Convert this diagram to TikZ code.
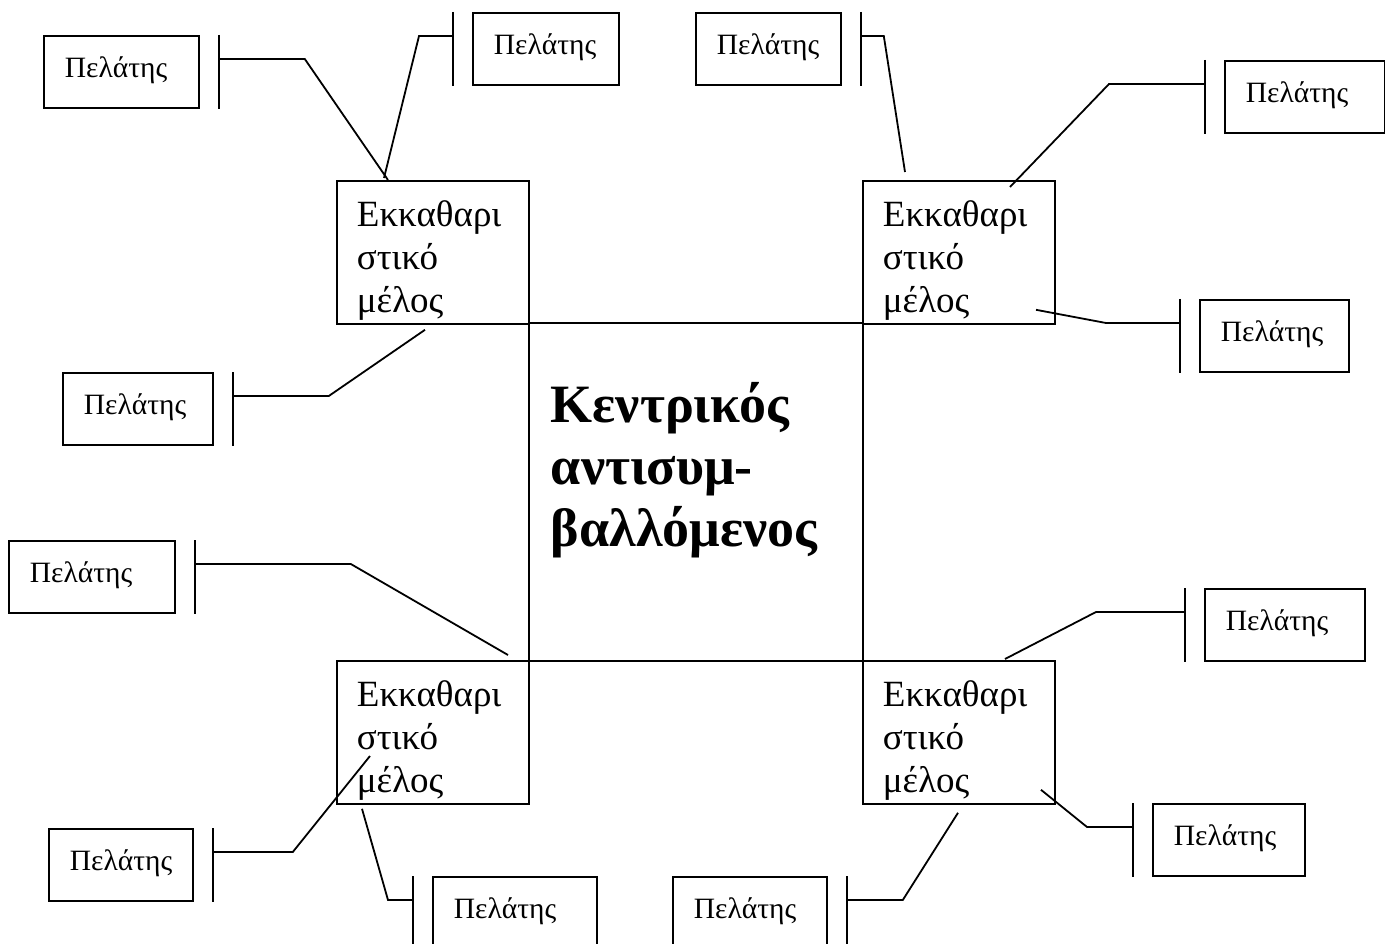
\documentclass[tikz,border=0pt]{standalone}
\usepackage{fontspec}
\setmainfont{Liberation Serif}
\usetikzlibrary{positioning, calc}

\tikzset{
  link/.style={line width=1.8pt},
  hub/.style={draw, line width=1.8pt, anchor=north west, inner xsep=22pt, inner ysep=0pt,
    text width=290pt, text height=100pt, text depth=238pt, align=left,
    font=\fontsize{54}{62}\selectfont\bfseries},
  member/.style={draw, line width=1.8pt, anchor=north west, inner xsep=20pt, inner ysep=0pt,
    text width=152pt, text height=46pt, text depth=97pt, align=left,
    font=\fontsize{37}{43}\selectfont},
  client/.style={draw, line width=1.8pt, anchor=north west, inner xsep=21pt, inner ysep=0pt,
    text height=42pt, text depth=30pt, align=left,
    font=\fontsize{29.5}{33}\selectfont}
}

\begin{document}
\begin{tikzpicture}[x=1pt, y=-1pt]
\clip (0,0) rectangle (1385,944);
\fill[white] (0,0) rectangle (1385,944);

% central counterparty and its clearing members
\node[hub] (hub) at (528,322) {Κεντρικός\\αντισυμ-\\βαλλόμενος};
\node[member] (mTL) at (336,180) {Εκκαθαρι\\στικό\\μέλος};
\node[member] (mTR) at (862,180) {Εκκαθαρι\\στικό\\μέλος};
\node[member] (mBL) at (336,660) {Εκκαθαρι\\στικό\\μέλος};
\node[member] (mBR) at (862,660) {Εκκαθαρι\\στικό\\μέλος};

% clients
\node[client, text width=113pt] (c1) at (43,35) {Πελάτης};
\node[client, text width=104pt] (c2) at (472,12) {Πελάτης};
\node[client, text width=108pt] (c3) at (62,372) {Πελάτης};
\node[client, text width=103pt] (c4) at (695,12) {Πελάτης};
\node[client, text width=118pt] (c5) at (1224,60) {Πελάτης};
\node[client, text width=107pt] (c6) at (1199,299) {Πελάτης};
\node[client, text width=124pt] (c7) at (8,540) {Πελάτης};
\node[client, text width=102pt] (c8) at (48,828) {Πελάτης};
\node[client, text width=122pt] (c9) at (432,876) {Πελάτης};
\node[client, text width=118pt] (c10) at (1204,588) {Πελάτης};
\node[client, text width=110pt] (c11) at (1152,803) {Πελάτης};
\node[client, text width=112pt] (c12) at (672,876) {Πελάτης};

% bars in front of the clients
\draw[link] ($(c1.north east)+(19,0)$) -- ($(c1.south east)+(19,0)$);
\draw[link] ($(c2.north west)+(-19,0)$) -- ($(c2.south west)+(-19,0)$);
\draw[link] ($(c3.north east)+(19,0)$) -- ($(c3.south east)+(19,0)$);
\draw[link] ($(c4.north east)+(19,0)$) -- ($(c4.south east)+(19,0)$);
\draw[link] ($(c5.north west)+(-19,0)$) -- ($(c5.south west)+(-19,0)$);
\draw[link] ($(c6.north west)+(-19,0)$) -- ($(c6.south west)+(-19,0)$);
\draw[link] ($(c7.north east)+(19,0)$) -- ($(c7.south east)+(19,0)$);
\draw[link] ($(c8.north east)+(19,0)$) -- ($(c8.south east)+(19,0)$);
\draw[link] ($(c9.north west)+(-19,0)$) -- ($(c9.south west)+(-19,0)$);
\draw[link] ($(c10.north west)+(-19,0)$) -- ($(c10.south west)+(-19,0)$);
\draw[link] ($(c11.north west)+(-19,0)$) -- ($(c11.south west)+(-19,0)$);
\draw[link] ($(c12.north east)+(19,0)$) -- ($(c12.south east)+(19,0)$);

% connectors
\draw[link] ($(c1.north east)+(19,24)$) -- ++(86,0) -- ($(mTL.north west)+(52,0)$);
\draw[link] ($(c2.north west)+(-19,24)$) -- ++(-34,0) -- ($(mTL.north west)+(48,-2)$);
\draw[link] ($(c3.north east)+(19,24)$) -- ++(96,0) -- ($(mTL.south west)+(89,5)$);
\draw[link] ($(c4.north east)+(19,24)$) -- ++(23,0) -- ($(mTR.north west)+(43,-8)$);
\draw[link] ($(c5.north west)+(-19,24)$) -- ++(-96,0) -- ($(mTR.north west)+(148,7)$);
\draw[link] ($(c6.north west)+(-19,24)$) -- ++(-74,0) -- ($(mTR.south west)+(174,-15)$);
\draw[link] ($(c7.north east)+(19,24)$) -- ++(156,0) -- ($(mBL.north west)+(172,-5)$);
\draw[link] ($(c8.north east)+(19,24)$) -- ++(80,0) -- ($(mBL.north west)+(34,96)$);
\draw[link] ($(c9.north west)+(-19,24)$) -- ++(-25,0) -- ($(mBL.south west)+(26,4)$);
\draw[link] ($(c10.north west)+(-19,24)$) -- ++(-89,0) -- ($(mBR.north west)+(143,-1)$);
\draw[link] ($(c11.north west)+(-19,24)$) -- ++(-46,0) -- ($(mBR.south west)+(179,-15)$);
\draw[link] ($(c12.north east)+(19,24)$) -- ++(56,0) -- ($(mBR.south west)+(96,8)$);
\end{tikzpicture}
\end{document}
